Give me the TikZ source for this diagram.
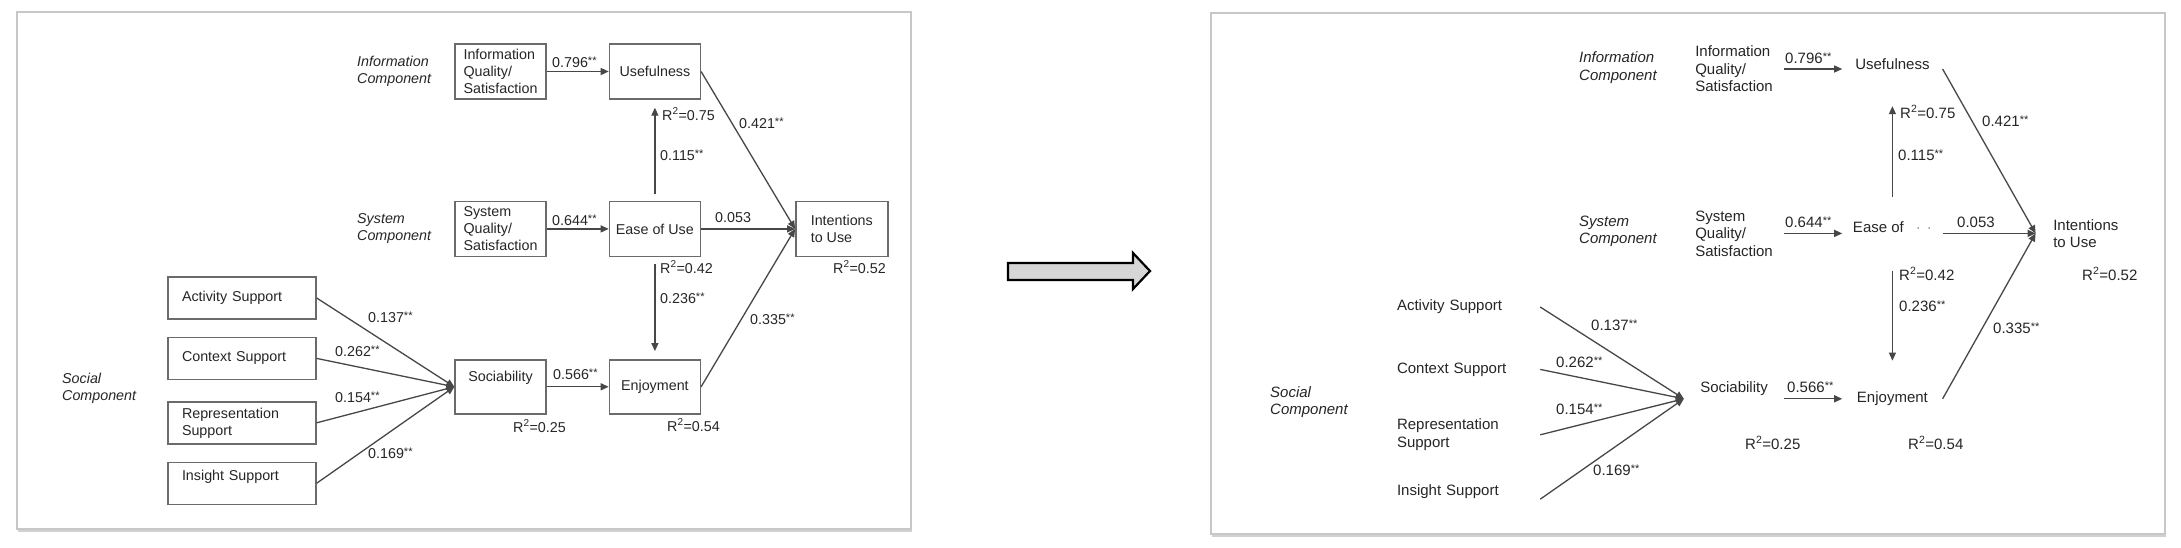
\documentclass[tikz,border=0pt]{standalone}
\usepackage{fontspec}
\setmainfont{Liberation Sans}
\usepackage{xcolor}
\colorlet{colorText}{black!85}
\colorlet{colorLink}{black!72}
\colorlet{colorBox}{black!58}
\colorlet{colorFrame}{black!22}
\colorlet{colorPointer}{black!16}
\usepackage{tikz}
\usetikzlibrary{arrows.meta, positioning, shadows}
\newcommand{\leftfont}{\fontsize{14.3}{17}\selectfont}
\newcommand{\rightfont}{\fontsize{15}{17.5}\selectfont}
\newcommand{\sig}{\raisebox{2.6pt}{\fontsize{11}{11}\selectfont **}}
\newcommand{\rsq}[1]{R\textsuperscript{2}=#1}
\newcommand{\lift}[2]{\raisebox{#1}[0pt][0pt]{#2}}
\tikzset{
  panel/.style={draw=colorFrame, line width=1.5pt, fill=white,
    drop shadow={shadow xshift=1pt, shadow yshift=-3pt, opacity=0.3, fill=black!60}},
  pointer/.style={draw=black, fill=colorPointer, line width=2.2pt, line join=miter},
  box/.style={draw=colorBox, line width=1.4pt, minimum width=91pt, minimum height=55pt, inner sep=0pt, align=left},
  supportbox/.style={box, minimum width=148pt, minimum height=42pt, text width=120pt},
  ghost/.style={minimum width=100pt, minimum height=58pt, inner sep=0pt, align=left},
  ghostsupport/.style={ghost, minimum width=160pt, minimum height=44pt, text width=126pt},
  comp/.style={anchor=west, align=left, inner sep=0pt},
  wlbl/.style={anchor=west, inner sep=0pt},
  link/.style={draw=colorLink, line width=1.3pt}
}
\begin{document}
\begin{tikzpicture}[x=1pt, y=-1pt, >={Triangle[length=8pt,width=7pt]}, every node/.style={text=colorText}]
\useasboundingbox (0,0) rectangle (2181,547);
% the two panels and the arrow between them
\draw[panel] (17,12) rectangle (911,529);
\draw[panel] (1211,13) rectangle (2165,534);
\draw[pointer] (1008,263) -- (1133,263) -- (1133,253) -- (1150,271) -- (1133,289) -- (1133,280) -- (1008,280) -- cycle;

% left panel: model with boxes
\begin{scope}[font=\leftfont]
\node[comp] (infoC) at (357,71.5) {\textit{Information}\\\textit{Component}};
\node[comp] (sysC) at (357,228) {\textit{System}\\\textit{Component}};
\node[comp] (socC) at (62,388.5) {\textit{Social}\\\textit{Component}};
\node[box] (infoQ) at (500.5,71.5) {Information\\Quality/\\Satisfaction};
\node[box, right=62pt of infoQ] (useful) {Usefulness};
\node[box, below=101pt of infoQ] (sysQ) {System\\Quality/\\Satisfaction};
\node[box, right=62pt of sysQ] (ease) {Ease of Use};
\node[box, right=94pt of ease, minimum width=92pt] (intent) {Intentions\\to Use};
\node[box, below=102pt of sysQ, minimum height=54pt] (soc) {\lift{5pt}{Sociability}};
\node[box, right=62pt of soc, minimum height=54pt] (enjoy) {Enjoyment};
\node[supportbox] (activity) at (242,298) {Activity Support};
\node[supportbox, below=17pt of activity] (context) {Context Support};
\node[supportbox, below=21pt of context] (repr) {Representation\\Support};
\node[supportbox, below=17pt of repr] (insight) {\lift{2.5pt}{Insight Support}};
\draw[link, ->] (infoQ) -- (useful);
\draw[link, ->] (sysQ) -- (ease);
\draw[link, ->] (soc) -- (enjoy);
\draw[link, ->, shorten <=7pt, shorten >=8pt] (ease) -- (useful);
\draw[link, ->, shorten <=7pt, shorten >=8pt] (ease) -- (enjoy);
\draw[link, ->] (useful.east) -- (intent.west);
\draw[link, ->] (ease) -- (intent);
\draw[link, ->] (enjoy.east) -- (intent.west);
\draw[link, ->] (activity.east) -- (soc.west);
\draw[link, ->] (context.east) -- (soc.west);
\draw[link, ->] (repr.east) -- (soc.west);
\draw[link, ->] (insight.east) -- (soc.west);
\node[wlbl] (w796) at (552,62) {0.796\sig};
\node[wlbl] (w644) at (552,220) {0.644\sig};
\node[wlbl] (w566) at (553,374) {0.566\sig};
\node[wlbl] (r75) at (662,114) {\rsq{0.75}};
\node[wlbl] (w115) at (660,155) {0.115\sig};
\node[wlbl] (r42) at (660,267) {\rsq{0.42}};
\node[wlbl] (w236) at (660,298) {0.236\sig};
\node[wlbl] (w421) at (739,123) {0.421\sig};
\node[wlbl] (w053) at (715,218) {0.053};
\node[wlbl] (w335) at (750,319) {0.335\sig};
\node[wlbl] (r52) at (833,267) {\rsq{0.52}};
\node[wlbl] (r25) at (513,426) {\rsq{0.25}};
\node[wlbl] (r54) at (667,425) {\rsq{0.54}};
\node[wlbl] (w137) at (368,317) {0.137\sig};
\node[wlbl] (w262) at (335,351) {0.262\sig};
\node[wlbl] (w154) at (335,397) {0.154\sig};
\node[wlbl] (w169) at (368,453) {0.169\sig};
\end{scope}

% right panel: same model, boxes gone
\begin{scope}[font=\rightfont]
\node[comp] (infoCR) at (1579,67.5) {\textit{Information}\\\textit{Component}};
\node[comp] (sysCR) at (1579,231.5) {\textit{System}\\\textit{Component}};
\node[comp] (socCR) at (1270,402) {\textit{Social}\\\textit{Component}};
\node[ghost] (infoR) at (1734,69) {Information\\Quality/\\Satisfaction};
\node[ghost, right=58pt of infoR] (usefulR) {\lift{0pt}{Usefulness}};
\node[ghost, below=106pt of infoR] (sysR) {System\\Quality/\\Satisfaction};
\node[ghost, right=58pt of sysR] (easeR) {\lift{1pt}{Ease of\hspace{12pt}{\color{black!45}·\hspace{6pt}·}}};
\node[ghost, right=93pt of easeR] (intentR) {Intentions\\to Use};
\node[ghost, below=107pt of sysR] (socR) {\lift{6pt}{Sociability}};
\node[ghost, right=58pt of socR] (enjoyR) {Enjoyment};
\node[ghostsupport] (activityR) at (1460,307) {Activity Support};
\node[ghostsupport, below=18pt of activityR] (contextR) {Context Support};
\node[ghostsupport, below=21pt of contextR] (reprR) {Representation\\Support};
\node[ghostsupport, below=20pt of reprR] (insightR) {\lift{4pt}{Insight Support}};
\draw[link, ->] (infoR) -- (usefulR);
\draw[link, ->] (sysR) -- (easeR);
\draw[link, ->] (socR) -- (enjoyR);
\draw[link, ->, shorten <=7pt, shorten >=8pt] (easeR) -- (usefulR);
\draw[link, ->, shorten <=8pt, shorten >=9pt] (easeR) -- (enjoyR);
\draw[link, ->] (usefulR.east) -- (intentR.west);
\draw[link, ->] (easeR) -- (intentR);
\draw[link, ->] (enjoyR.east) -- (intentR.west);
\draw[link, ->] (activityR.east) -- (socR.west);
\draw[link, ->] (contextR.east) -- (socR.west);
\draw[link, ->] (reprR.east) -- (socR.west);
\draw[link, ->] (insightR.east) -- (socR.west);
\node[wlbl] (w796R) at (1785,58) {0.796\sig};
\node[wlbl] (w644R) at (1785,222) {0.644\sig};
\node[wlbl] (w566R) at (1787,387) {0.566\sig};
\node[wlbl] (r75R) at (1900,112) {\rsq{0.75}};
\node[wlbl] (w115R) at (1898,155) {0.115\sig};
\node[wlbl] (r42R) at (1899,274) {\rsq{0.42}};
\node[wlbl] (w236R) at (1899,306) {0.236\sig};
\node[wlbl] (w421R) at (1982,121) {0.421\sig};
\node[wlbl] (w053R) at (1957,222) {0.053};
\node[wlbl] (w335R) at (1993,328) {0.335\sig};
\node[wlbl] (r52R) at (2082,274) {\rsq{0.52}};
\node[wlbl] (r25R) at (1745,443) {\rsq{0.25}};
\node[wlbl] (r54R) at (1908,443) {\rsq{0.54}};
\node[wlbl] (w137R) at (1591,325) {0.137\sig};
\node[wlbl] (w262R) at (1556,362) {0.262\sig};
\node[wlbl] (w154R) at (1556,409) {0.154\sig};
\node[wlbl] (w169R) at (1593,470) {0.169\sig};
\end{scope}
\end{tikzpicture}
\end{document}
